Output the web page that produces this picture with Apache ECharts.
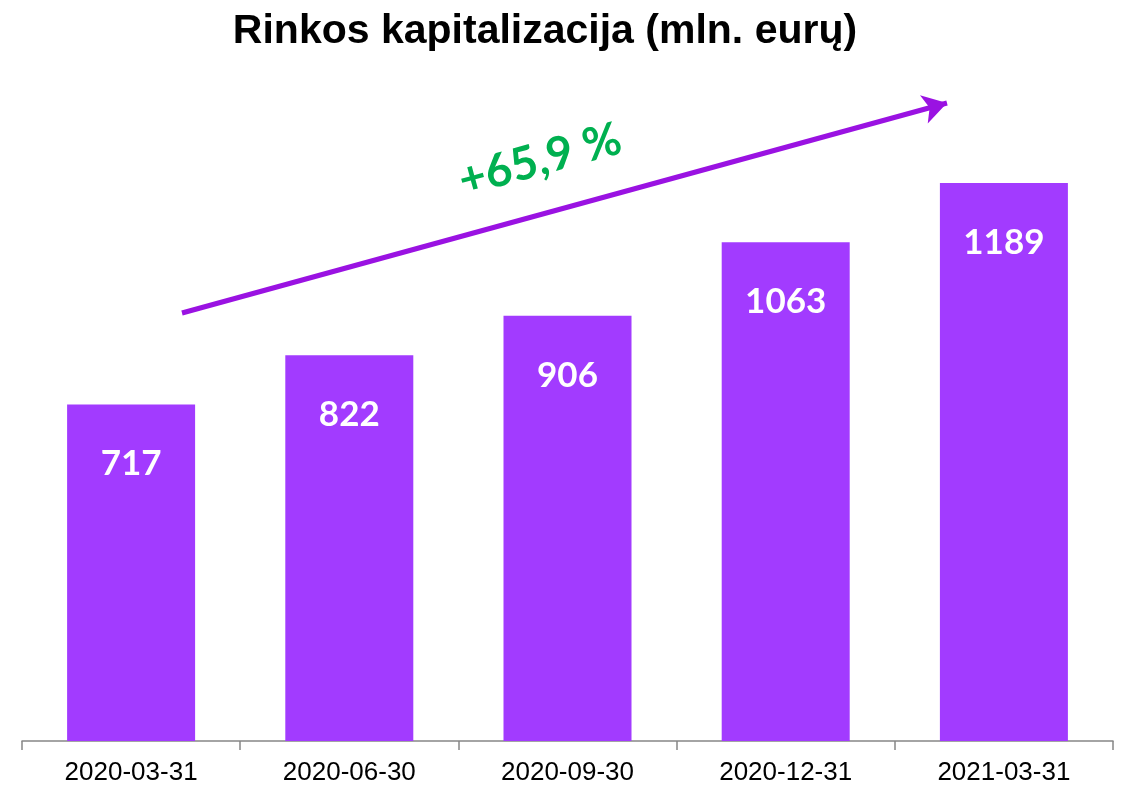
<!DOCTYPE html>
<html>
<head>
<meta charset="utf-8">
<script src="https://cdn.jsdelivr.net/npm/echarts@6/dist/echarts.min.js"></script>
<style>
  html, body { margin: 0; padding: 0; background: #fff; }
  #chart { width: 1122px; height: 786px; }
</style>
</head>
<body>
<div id="chart"></div>
<script>
var dates = ['2020-03-31', '2020-06-30', '2020-09-30', '2020-12-31', '2021-03-31'];
var capValues = [717, 822, 906, 1063, 1189];
var growthText = '+65,9 %';

var barColor = '#a23bff';
var arrowColor = '#9a12e2';

var chart = echarts.init(document.getElementById('chart'));

var option = {
    animation: false,
    title: {
        text: 'Rinkos kapitalizacija (mln. eurų)',
        left: 540,
        top: 6,
        textAlign: 'center',
        textStyle: {
            fontFamily: 'Liberation Sans, Arial, sans-serif',
            fontWeight: 'bold',
            fontSize: 41,
            color: '#000'
        }
    },
    grid: { left: 22, right: 9, top: 84, bottom: 45 },
    xAxis: {
        type: 'category',
        data: dates,
        axisLine: { lineStyle: { color: '#868686', width: 1.5 } },
        axisTick: { show: true, length: 9, lineStyle: { color: '#868686', width: 1.5 } },
        axisLabel: {
            margin: 19,
            fontFamily: 'Liberation Sans, Arial, sans-serif',
            fontSize: 26,
            color: '#000'
        }
    },
    yAxis: {
        type: 'value',
        min: 0,
        max: 1400,
        show: false,
        splitLine: { show: false }
    },
    series: [{
        type: 'bar',
        data: capValues,
        barWidth: 128,
        itemStyle: { color: barColor },
        label: {
            show: true,
            position: 'insideTop',
            distance: 42,
            color: '#fff',
            fontFamily: 'Lato, sans-serif',
            fontWeight: 'bold',
            fontSize: 35
        },
        markLine: {
            silent: true,
            symbol: ['none', 'arrow'],
            symbolSize: [22, 24],
            label: { show: false },
            lineStyle: { color: arrowColor, width: 5, type: 'solid' },
            data: [[{ x: 182, y: 313 }, { x: 947, y: 103 }]]
        }
    }],
    graphic: [{
        type: 'text',
        x: 540,
        y: 160,
        rotation: 15.3 * Math.PI / 180,
        style: {
            text: growthText,
            fill: '#00b050',
            font: 'bold 46px Lato, sans-serif',
            textAlign: 'center',
            textVerticalAlign: 'middle'
        }
    }]
};

chart.setOption(option);
</script>
</body>
</html>
